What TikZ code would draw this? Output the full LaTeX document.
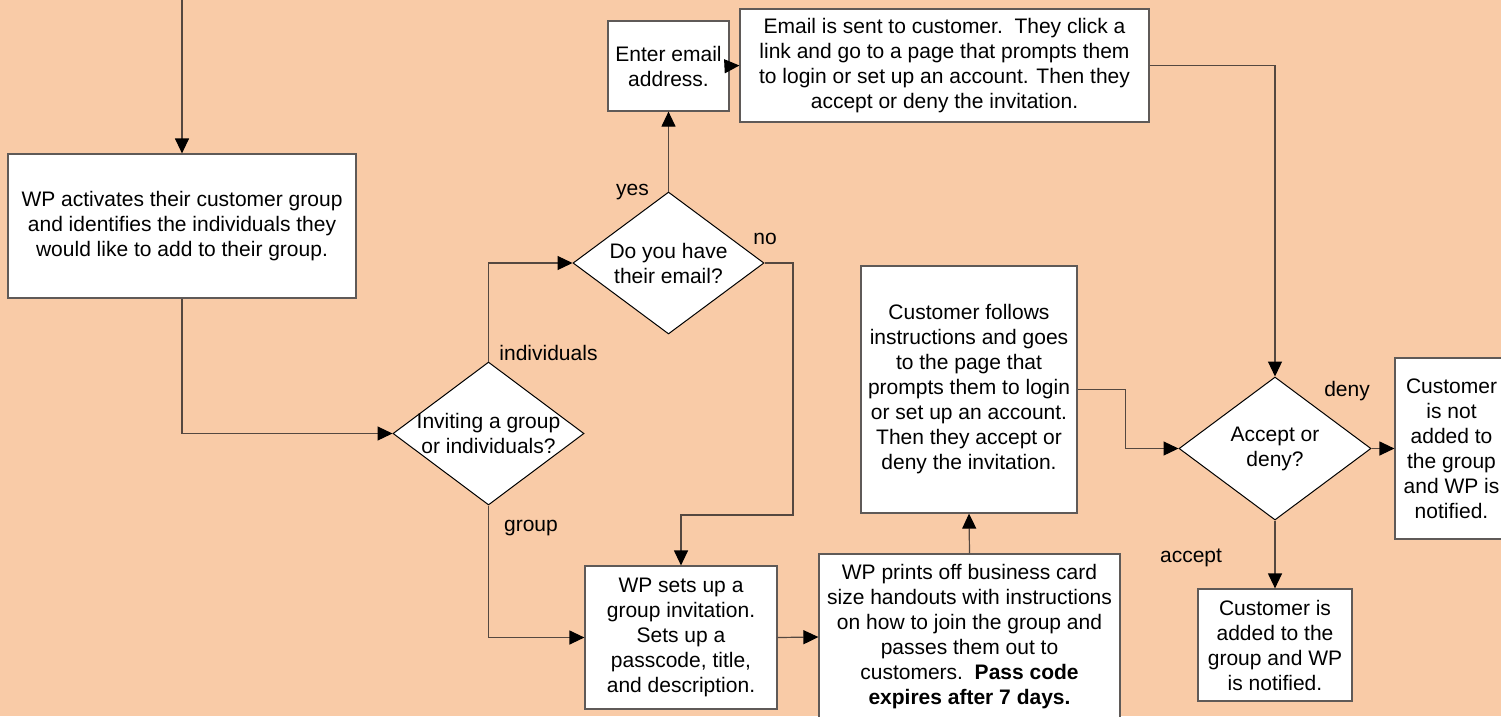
\documentclass[tikz,border=0pt]{standalone}
\usepackage{fontspec}
\setmainfont{Liberation Sans}
\usetikzlibrary{arrows.meta,shapes.geometric}
\definecolor{bgpeach}{RGB}{249,203,167}
\definecolor{linecol}{RGB}{85,72,64}
\definecolor{boxline}{RGB}{95,90,88}
\tikzset{
  box/.style={draw=boxline,fill=white,line width=1.2pt,inner sep=0pt,align=center,
    font=\fontsize{21}{25}\selectfont},
  dia/.style={draw=black,fill=white,line width=1pt,diamond,inner sep=0pt,aspect=1.34},
  dtext/.style={inner sep=0pt,align=center,font=\fontsize{21}{25}\selectfont},
  lbl/.style={inner sep=0pt,font=\fontsize{21}{25}\selectfont},
  conn/.style={draw=linecol,line width=1.2pt,-{Triangle[length=15pt,width=14pt,fill=black,color=black]}},
}
\begin{document}
\begin{tikzpicture}[x=1pt,y=-1pt]
\fill[bgpeach] (0,0) rectangle (1501,716);
\useasboundingbox (0,0) rectangle (1501,716);

% boxes
\node[box,minimum width=348pt,minimum height=144pt] (a) at (182,226)
  {WP activates their customer group\\and identifies the individuals they\\would like to add to their group.};
\node[box,minimum width=121pt,minimum height=90pt] (e) at (668.5,66)
  {Enter email\\address.};
\node[box,minimum width=409pt,minimum height=113pt] (m) at (944.5,65.5)
  {Email is sent to customer.\ \ They click a\\link and go to a page that prompts them\\to login or set up an account. Then they\\accept or deny the invitation.};
\node[box,minimum width=216pt,minimum height=247pt] (f) at (969,389.5)
  {Customer follows\\instructions and goes\\to the page that\\prompts them to login\\or set up an account.\\Then they accept or\\deny the invitation.};
\node[box,minimum width=192pt,minimum height=143pt] (s) at (681,637.5)
  {WP sets up a\\group invitation.\\Sets up a\\passcode, title,\\and description.};
\node[box,minimum width=301pt,minimum height=166pt] (p) at (969.5,637)
  {WP prints off business card\\size handouts with instructions\\on how to join the group and\\passes them out to\\customers.\ \ \textbf{Pass code}\\\textbf{expires after 7 days.}};
\node[box,minimum width=113pt,minimum height=181pt] (no) at (1451.5,448.5)
  {Customer\\is not\\added to\\the group\\and WP is\\notified.};
\node[box,minimum width=154pt,minimum height=112pt] (add) at (1275,645)
  {Customer is\\added to the\\group and WP\\is notified.};

% diamonds
\node[dia,minimum width=191pt,minimum height=143pt] (d1) at (488.5,433.5) {};
\node[dtext] at (d1) {Inviting a group\\or individuals?};
\node[dia,minimum width=191pt,minimum height=142pt] (d2) at (668.5,263) {};
\node[dtext] at (d2) {Do you have\\their email?};
\node[dia,minimum width=192pt,minimum height=143pt] (acc) at (1275,448.5) {};
\node[dtext] at (acc) {Accept or\\deny?};

% connectors
\coordinate (top) at (182,-5);
\coordinate (nobend) at (793,515);
\draw[conn] (top) -- (a.north);
\draw[conn] (a.south) |- (d1.west);
\draw[conn] (d1.north) |- (d2.west);
\draw[conn] (d1.south) |- (s.west);
\draw[conn] (d2.north) -- (e.south);
\draw[conn] (d2.east) -| (nobend) -| (s.north);
\draw[conn] (e.east) -- (m.west);
\draw[conn] (m.east) -| (acc.north);
\draw[conn] (s.east) -- (p.west);
\draw[conn] (p.north) -- (f.south);
\draw[conn] (f.east) -- ++(48,0) |- (acc.west);
\draw[conn] (acc.east) -- (no.west);
\draw[conn] (acc.south) -- (add.north);

% labels
\node[lbl] (lind) at (548.5,353) {individuals};
\node[lbl] (lgrp) at (531,528) {group};
\node[lbl] (lyes) at (632.5,192) {yes};
\node[lbl] (lno) at (765,239) {no};
\node[lbl] (ldeny) at (1347,391) {deny};
\node[lbl] (lacc) at (1191,558) {accept};
\end{tikzpicture}
\end{document}
